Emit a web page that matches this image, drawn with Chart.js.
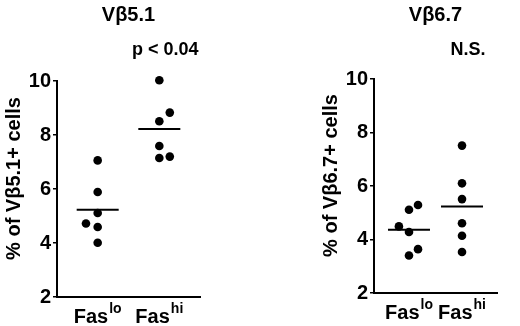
<!DOCTYPE html>
<html><head><meta charset="utf-8">
<script src="https://cdn.jsdelivr.net/npm/chart.js@4"></script>
<style>
html,body{margin:0;padding:0;background:#fff;}
#wrap{position:relative;width:520px;height:326px;overflow:hidden;}
.p{position:absolute;top:0;width:260px;height:326px;}
</style></head><body>
<div id="wrap">
<div class="p" style="left:0"><canvas id="c1" width="260" height="326"></canvas></div>
<div class="p" style="left:260px"><canvas id="c2" width="260" height="326"></canvas></div>
</div>
<script>
// ---- data ----
const groupSuffixes = ['lo', 'hi'];          // Fas^lo, Fas^hi
const groupPositions = [1, 2];
const yTicks = [2, 4, 6, 8, 10];

const vb51Title = 'V\u03B25.1';
const vb51Note = 'p < 0.04';
const vb51AxisTitle = '% of V\u03B25.1+ cells';
const vb51Lo = [7.06, 5.89, 5.11, 4.72, 4.59, 4.01];
const vb51LoJitter = [0, 0, 0, -0.19, 0, 0];
const vb51Hi = [10.03, 8.83, 8.51, 7.59, 7.15, 7.20];
const vb51HiJitter = [0, 0.17, 0, 0, 0, 0.17];

const vb67Title = 'V\u03B26.7';
const vb67Note = 'N.S.';
const vb67AxisTitle = '% of V\u03B26.7+ cells';
const vb67Lo = [4.49, 5.11, 5.29, 4.28, 3.64, 3.40];
const vb67LoJitter = [-0.19, 0, 0.17, 0, 0.17, 0];
const vb67Hi = [7.51, 6.10, 5.51, 4.61, 4.14, 3.53];
const vb67HiJitter = [0, 0, 0, 0, 0, 0];

// ---- drawing ----
const FONT = '"Liberation Sans", Arial, Helvetica, sans-serif';
const mean = a => a.reduce((s, v) => s + v, 0) / a.length;

const textPlugin = {
  id: 'panelText',
  afterDraw(chart, args, o) {
    const {ctx, chartArea: ca, scales} = chart;
    const xs = scales.x;
    ctx.save();
    ctx.fillStyle = '#000';
    // panel title
    ctx.font = 'bold 20px ' + FONT;
    ctx.textAlign = 'center';
    ctx.textBaseline = 'alphabetic';
    ctx.fillText(o.title, (ca.left + ca.right) / 2, 21);
    // note
    ctx.font = 'bold 18px ' + FONT;
    ctx.fillText(o.note, xs.getPixelForValue(groupPositions[1]) + 6, 54.5);
    // y axis title
    ctx.save();
    ctx.translate(ca.left - 37, (ca.top + ca.bottom) / 2 - 10.5);
    ctx.rotate(-Math.PI / 2);
    ctx.font = 'bold 20px ' + FONT;
    ctx.textAlign = 'center';
    ctx.fillText(o.axisTitle, 0, 0);
    ctx.restore();
    // group labels with superscripts
    groupSuffixes.forEach((suf, i) => {
      const cx = xs.getPixelForValue(groupPositions[i]);
      ctx.font = 'bold 20px ' + FONT;
      const w1 = ctx.measureText('Fas').width;
      ctx.font = 'bold 14px ' + FONT;
      const w2 = ctx.measureText(suf).width;
      const x0 = cx - (w1 + w2 + 1) / 2;
      const base = ca.bottom + 25.5;
      ctx.textAlign = 'left';
      ctx.font = 'bold 20px ' + FONT;
      ctx.fillText('Fas', x0, base);
      ctx.font = 'bold 14px ' + FONT;
      ctx.fillText(suf, x0 + w1 + 1, base - 10);
    });
    ctx.restore();
  }
};

function makePanel(id, title, note, axisTitle, lo, loJit, hi, hiJit, pad, yWidth) {
  const pts = (vals, jit, g) => vals.map((v, i) => ({x: groupPositions[g] + jit[i], y: v}));
  new Chart(document.getElementById(id), {
    type: 'scatter',
    data: {
      datasets: [
        {data: pts(lo, loJit, 0), pointRadius: 4.3, pointHoverRadius: 4.3,
         backgroundColor: '#000', borderColor: '#000', borderWidth: 0, clip: false},
        {data: pts(hi, hiJit, 1), pointRadius: 4.3, pointHoverRadius: 4.3,
         backgroundColor: '#000', borderColor: '#000', borderWidth: 0, clip: false},
        {data: [{x: groupPositions[0], y: mean(lo)}, {x: groupPositions[1], y: mean(hi)}],
         pointStyle: 'line', pointRadius: 21, pointHoverRadius: 21,
         borderColor: '#000', borderWidth: 2, clip: false}
      ]
    },
    options: {
      responsive: false,
      animation: false,
      events: [],
      layout: {padding: pad},
      plugins: {
        legend: {display: false},
        tooltip: {enabled: false},
        title: {display: false},
        panelText: {title, note, axisTitle}
      },
      scales: {
        x: {
          type: 'linear', min: 0.34, max: 2.66,
          ticks: {display: false},
          grid: {display: false},
          border: {display: true, color: '#000', width: 2},
          afterFit: s => { s.height = 0; }
        },
        y: {
          type: 'linear', min: 2, max: 10,
          afterBuildTicks: s => { s.ticks = yTicks.map(v => ({value: v})); },
          ticks: {color: '#000', padding: 2, font: {family: FONT, weight: 'bold', size: 20}},
          grid: {display: true, drawOnChartArea: false, drawTicks: true, tickLength: 4,
                 color: '#000', lineWidth: 1.5},
          border: {display: true, color: '#000', width: 2},
          afterFit: s => { s.width = yWidth; }
        }
      }
    },
    plugins: [textPlugin]
  });
}

makePanel('c1', vb51Title, vb51Note, vb51AxisTitle, vb51Lo, vb51LoJitter, vb51Hi, vb51HiJitter,
  {top: 81, bottom: 29, left: 0, right: 60}, 57);
makePanel('c2', vb67Title, vb67Note, vb67AxisTitle, vb67Lo, vb67LoJitter, vb67Hi, vb67HiJitter,
  {top: 79, bottom: 33, left: 0, right: 2}, 114);
</script>
</body></html>
